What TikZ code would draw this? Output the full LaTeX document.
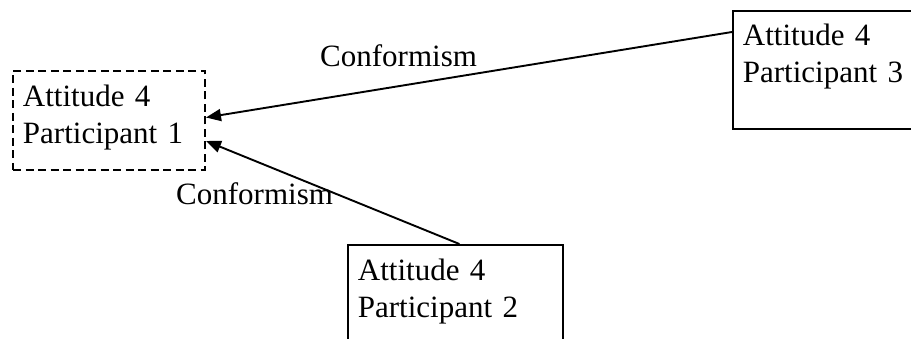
\documentclass[tikz,border=0pt]{standalone}
\usepackage{fontspec}
\setmainfont{Liberation Serif}
\usetikzlibrary{arrows.meta}
\begin{document}
\begin{tikzpicture}[x=1pt,y=-1pt,
  every node/.style={font=\fontsize{31pt}{37pt}\selectfont, inner sep=0pt},
  partbox/.style={draw, line width=1.8pt, anchor=north west, align=left,
    inner xsep=10pt, inner ysep=0pt, text height=36pt},
  dashbox/.style={partbox, line width=2pt, dash pattern=on 8pt off 4.5pt},
  influence/.style={line width=1.9pt, -{Triangle[length=15pt,width=12pt]}},
  tag/.style={anchor=base west}]
  \useasboundingbox (0,0) rectangle (911,339);
  \clip (0,0) rectangle (911,339);
  % participants
  \node[dashbox, text width=172pt, text depth=63pt] (p1) at (12,70)
    {Attitude 4\\Participant 1};
  \node[partbox, text width=230pt, text height=35pt, text depth=83pt] (p3) at (732,10)
    {Attitude 4\\Participant 3};
  \node[partbox, text width=195pt, text depth=90pt] (p2) at (347,244)
    {Attitude 4\\Participant 2};
  % influences
  \draw[influence] ([yshift=-22pt]p3.north west) -- ([yshift=3pt]p1.east);
  \draw[influence] ([xshift=4pt]p2.north) -- ([yshift=-20.5pt]p1.east);
  % labels
  \node[tag] (c1) at (320,67) {Conformism};
  \node[tag] (c2) at (176,205) {Conformism};
\end{tikzpicture}
\end{document}
